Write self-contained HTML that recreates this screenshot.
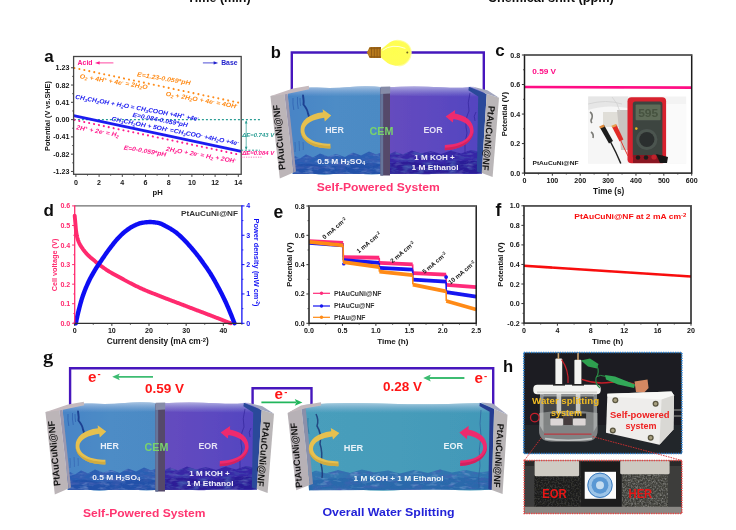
<!DOCTYPE html><html><head><meta charset="utf-8"><title>figure</title>
<style>html,body{margin:0;padding:0;background:#fff;}body{width:736px;height:530px;overflow:hidden;}svg{display:block;font-family:"Liberation Sans",sans-serif;}</style></head><body>
<svg width="736" height="530" viewBox="0 0 736 530">
<defs>
<linearGradient id="wL" x1="0" y1="0" x2="1" y2="0"><stop offset="0" stop-color="#4884c6"/><stop offset="0.5" stop-color="#4d8cc6"/><stop offset="1" stop-color="#4c8ac4"/></linearGradient>
<linearGradient id="wR" x1="0" y1="0" x2="1" y2="0"><stop offset="0" stop-color="#664cbe"/><stop offset="0.5" stop-color="#5c48c0"/><stop offset="1" stop-color="#5244c0"/></linearGradient>
<linearGradient id="wT" x1="0" y1="0" x2="1" y2="0"><stop offset="0" stop-color="#489ebc"/><stop offset="0.5" stop-color="#469cba"/><stop offset="1" stop-color="#4298b8"/></linearGradient>
<radialGradient id="bulb" cx="0.45" cy="0.45" r="0.6"><stop offset="0" stop-color="#ffff50"/><stop offset="0.75" stop-color="#fffd54"/><stop offset="1" stop-color="#fdf960"/></radialGradient>
<filter id="b03" x="-5%" y="-5%" width="110%" height="110%"><feGaussianBlur stdDeviation="0.5"/></filter>
<filter id="b06" x="-5%" y="-5%" width="110%" height="110%"><feGaussianBlur stdDeviation="0.6"/></filter>
<filter id="b1" x="-5%" y="-5%" width="110%" height="110%"><feGaussianBlur stdDeviation="1"/></filter>
<filter id="nzD" x="0" y="0" width="100%" height="100%"><feTurbulence type="fractalNoise" baseFrequency="0.55" numOctaves="2" seed="3"/><feColorMatrix type="matrix" values="0 0 0 0 0  0 0 0 0 0  0 0 0 0 0  0 0 0 1.6 -0.62"/></filter>
<filter id="nzL" x="0" y="0" width="100%" height="100%"><feTurbulence type="fractalNoise" baseFrequency="0.6" numOctaves="2" seed="8"/><feColorMatrix type="matrix" values="0 0 0 0 1  0 0 0 0 1  0 0 0 0 1  0 0 0 1.5 -0.62"/></filter>
<filter id="nzW" x="0" y="0" width="100%" height="100%"><feTurbulence type="fractalNoise" baseFrequency="0.12 0.3" numOctaves="2" seed="5"/><feColorMatrix type="matrix" values="0 0 0 0 0.05  0 0 0 0 0.1  0 0 0 0 0.4  0 0 0 1.8 -0.75"/></filter>
<linearGradient id="topB" x1="0" y1="0" x2="0" y2="1"><stop offset="0" stop-color="#dfe6f4" stop-opacity="0.62"/><stop offset="0.45" stop-color="#c8d4ee" stop-opacity="0.34"/><stop offset="1" stop-color="#b0c0e8" stop-opacity="0"/></linearGradient>
<filter id="wvTex" x="0" y="0" width="100%" height="100%"><feTurbulence type="fractalNoise" baseFrequency="0.09 0.28" numOctaves="3" seed="11" result="n"/><feColorMatrix in="n" type="matrix" values="0 0 0 0 0.06  0 0 0 0 0.12  0 0 0 0 0.45  0 0 0 2.6 -1.15" result="c"/><feComposite in="c" in2="SourceGraphic" operator="in"/></filter>
<filter id="wvTexL" x="0" y="0" width="100%" height="100%"><feTurbulence type="fractalNoise" baseFrequency="0.1 0.3" numOctaves="3" seed="23" result="n"/><feColorMatrix in="n" type="matrix" values="0 0 0 0 0.62  0 0 0 0 0.74  0 0 0 0 0.95  0 0 0 2.4 -1.3" result="c"/><feComposite in="c" in2="SourceGraphic" operator="in"/></filter>
</defs>
<rect width="736" height="530" fill="#fff"/>
<g filter="url(#b03)">
<text x="219" y="2.1" font-size="12.5" fill="#111" font-weight="bold" text-anchor="middle" textLength="63.3" lengthAdjust="spacingAndGlyphs">Time (min)</text>
<text x="550.8" y="2.1" font-size="12.5" fill="#111" font-weight="bold" text-anchor="middle" textLength="126" lengthAdjust="spacingAndGlyphs">Chemical shift (ppm)</text>
<text x="44.3" y="61.5" font-size="17" fill="#111" font-weight="bold" text-anchor="start">a</text>
<line x1="73.9" y1="119.6" x2="260" y2="119.6" stroke="#2a9d94" stroke-width="1.3" stroke-dasharray="2 2"/>
<line x1="74.4" y1="67.9555" x2="238.3" y2="102.5714" stroke="#ff8c1a" stroke-width="2.1" stroke-dasharray="0.01 5.06" stroke-linecap="round"/>
<line x1="74.4" y1="119.89999999999999" x2="238.3" y2="154.4159" stroke="#ff1a8c" stroke-width="2.1" stroke-dasharray="0.01 5.0" stroke-linecap="round"/>
<line x1="73.6" y1="115.56203" x2="241.2" y2="151.37267" stroke="#1c1cf0" stroke-width="2.7"/>
<rect x="73.6" y="56.5" width="167.6" height="117.80000000000001" fill="none" stroke="#444" stroke-width="1.3"/>
<line x1="71.0" y1="67.7555" x2="73.6" y2="67.7555" stroke="#444" stroke-width="1"/>
<text x="69.39999999999999" y="70.2555" font-size="7.1" fill="#161616" font-weight="bold" text-anchor="end">1.23</text>
<line x1="71.0" y1="85.037" x2="73.6" y2="85.037" stroke="#444" stroke-width="1"/>
<text x="69.39999999999999" y="87.537" font-size="7.1" fill="#161616" font-weight="bold" text-anchor="end">0.82</text>
<line x1="71.0" y1="102.3185" x2="73.6" y2="102.3185" stroke="#444" stroke-width="1"/>
<text x="69.39999999999999" y="104.8185" font-size="7.1" fill="#161616" font-weight="bold" text-anchor="end">0.41</text>
<line x1="71.0" y1="119.6" x2="73.6" y2="119.6" stroke="#444" stroke-width="1"/>
<text x="69.39999999999999" y="122.1" font-size="7.1" fill="#161616" font-weight="bold" text-anchor="end">0.00</text>
<line x1="71.0" y1="136.8815" x2="73.6" y2="136.8815" stroke="#444" stroke-width="1"/>
<text x="69.39999999999999" y="139.3815" font-size="7.1" fill="#161616" font-weight="bold" text-anchor="end">-0.41</text>
<line x1="71.0" y1="154.16299999999998" x2="73.6" y2="154.16299999999998" stroke="#444" stroke-width="1"/>
<text x="69.39999999999999" y="156.66299999999998" font-size="7.1" fill="#161616" font-weight="bold" text-anchor="end">-0.82</text>
<line x1="71.0" y1="171.4445" x2="73.6" y2="171.4445" stroke="#444" stroke-width="1"/>
<text x="69.39999999999999" y="173.9445" font-size="7.1" fill="#161616" font-weight="bold" text-anchor="end">-1.23</text>
<line x1="72.1" y1="76.39625000000001" x2="73.6" y2="76.39625000000001" stroke="#444" stroke-width="0.8"/>
<line x1="72.1" y1="93.67775" x2="73.6" y2="93.67775" stroke="#444" stroke-width="0.8"/>
<line x1="72.1" y1="110.95925" x2="73.6" y2="110.95925" stroke="#444" stroke-width="0.8"/>
<line x1="72.1" y1="128.24075" x2="73.6" y2="128.24075" stroke="#444" stroke-width="0.8"/>
<line x1="72.1" y1="145.52224999999999" x2="73.6" y2="145.52224999999999" stroke="#444" stroke-width="0.8"/>
<line x1="72.1" y1="162.80374999999998" x2="73.6" y2="162.80374999999998" stroke="#444" stroke-width="0.8"/>
<line x1="75.9" y1="174.3" x2="75.9" y2="176.9" stroke="#444" stroke-width="1"/>
<text x="75.9" y="184.5" font-size="7.1" fill="#161616" font-weight="bold" text-anchor="middle">0</text>
<line x1="99.10000000000001" y1="174.3" x2="99.10000000000001" y2="176.9" stroke="#444" stroke-width="1"/>
<text x="99.10000000000001" y="184.5" font-size="7.1" fill="#161616" font-weight="bold" text-anchor="middle">2</text>
<line x1="122.30000000000001" y1="174.3" x2="122.30000000000001" y2="176.9" stroke="#444" stroke-width="1"/>
<text x="122.30000000000001" y="184.5" font-size="7.1" fill="#161616" font-weight="bold" text-anchor="middle">4</text>
<line x1="145.5" y1="174.3" x2="145.5" y2="176.9" stroke="#444" stroke-width="1"/>
<text x="145.5" y="184.5" font-size="7.1" fill="#161616" font-weight="bold" text-anchor="middle">6</text>
<line x1="168.7" y1="174.3" x2="168.7" y2="176.9" stroke="#444" stroke-width="1"/>
<text x="168.7" y="184.5" font-size="7.1" fill="#161616" font-weight="bold" text-anchor="middle">8</text>
<line x1="191.9" y1="174.3" x2="191.9" y2="176.9" stroke="#444" stroke-width="1"/>
<text x="191.9" y="184.5" font-size="7.1" fill="#161616" font-weight="bold" text-anchor="middle">10</text>
<line x1="215.1" y1="174.3" x2="215.1" y2="176.9" stroke="#444" stroke-width="1"/>
<text x="215.1" y="184.5" font-size="7.1" fill="#161616" font-weight="bold" text-anchor="middle">12</text>
<line x1="238.3" y1="174.3" x2="238.3" y2="176.9" stroke="#444" stroke-width="1"/>
<text x="238.3" y="184.5" font-size="7.1" fill="#161616" font-weight="bold" text-anchor="middle">14</text>
<line x1="87.5" y1="174.3" x2="87.5" y2="175.8" stroke="#444" stroke-width="0.8"/>
<line x1="110.7" y1="174.3" x2="110.7" y2="175.8" stroke="#444" stroke-width="0.8"/>
<line x1="133.9" y1="174.3" x2="133.9" y2="175.8" stroke="#444" stroke-width="0.8"/>
<line x1="157.10000000000002" y1="174.3" x2="157.10000000000002" y2="175.8" stroke="#444" stroke-width="0.8"/>
<line x1="180.3" y1="174.3" x2="180.3" y2="175.8" stroke="#444" stroke-width="0.8"/>
<line x1="203.5" y1="174.3" x2="203.5" y2="175.8" stroke="#444" stroke-width="0.8"/>
<line x1="226.7" y1="174.3" x2="226.7" y2="175.8" stroke="#444" stroke-width="0.8"/>
<text x="157.6" y="194.6" font-size="7.7" fill="#161616" font-weight="bold" text-anchor="middle">pH</text>
<text x="50.2" y="116" font-size="7.3" fill="#161616" font-weight="bold" text-anchor="middle" transform="rotate(-90 50.2 116)">Potential (V vs.SHE)</text>
<text x="77.6" y="65.0" font-size="6.9" fill="#ff1a8c" font-weight="bold" text-anchor="start" textLength="15" lengthAdjust="spacingAndGlyphs">Acid</text>
<path d="M113.4 62.9H98" stroke="#ff1a8c" stroke-width="0.8"/><path d="M95 62.9l4.6-1.6v3.2z" fill="#ff1a8c"/>
<path d="M202.9 62.9H214" stroke="#2222cc" stroke-width="0.8"/><path d="M218.2 62.9l-4.6-1.6v3.2z" fill="#2222cc"/>
<text x="221.2" y="64.9" font-size="6.9" fill="#2222cc" font-weight="bold" text-anchor="start" textLength="16.3" lengthAdjust="spacingAndGlyphs">Base</text>
<text x="79.8" y="76.0" font-size="6.3" fill="#ff8c1a" font-weight="bold" text-anchor="start" font-style="italic" transform="rotate(9.3 79.8 76.0)" textLength="68.7" lengthAdjust="spacingAndGlyphs" dy="2.2">O<tspan font-size="70%" dy="1.2">2</tspan><tspan dy="-1.2">&#8203;</tspan> + 4H<tspan font-size="70%" dy="-2">+</tspan><tspan dy="2">&#8203;</tspan> + 4e<tspan font-size="70%" dy="-2">-</tspan><tspan dy="2">&#8203;</tspan> = 2H<tspan font-size="70%" dy="1.2">2</tspan><tspan dy="-1.2">&#8203;</tspan>O</text>
<text x="137.2" y="74.1" font-size="6.3" fill="#ff8c1a" font-weight="bold" text-anchor="start" font-style="italic" transform="rotate(9.4 137.2 74.1)" textLength="54" lengthAdjust="spacingAndGlyphs" dy="2.2">E=1.23-0.059*pH</text>
<text x="165.8" y="93.6" font-size="6.3" fill="#ff8c1a" font-weight="bold" text-anchor="start" font-style="italic" transform="rotate(10.1 165.8 93.6)" textLength="72.8" lengthAdjust="spacingAndGlyphs" dy="2.2">O<tspan font-size="70%" dy="1.2">2</tspan><tspan dy="-1.2">&#8203;</tspan> + 2H<tspan font-size="70%" dy="1.2">2</tspan><tspan dy="-1.2">&#8203;</tspan>O + 4e<tspan font-size="70%" dy="-2">-</tspan><tspan dy="2">&#8203;</tspan> = 4OH<tspan font-size="70%" dy="-2">-</tspan><tspan dy="2">&#8203;</tspan></text>
<text x="75.5" y="96.6" font-size="6.3" fill="#1c1cf0" font-weight="bold" text-anchor="start" font-style="italic" transform="rotate(10.3 75.5 96.6)" textLength="125.4" lengthAdjust="spacingAndGlyphs" dy="2.2">CH<tspan font-size="70%" dy="1.2">3</tspan><tspan dy="-1.2">&#8203;</tspan>CH<tspan font-size="70%" dy="1.2">2</tspan><tspan dy="-1.2">&#8203;</tspan>OH + H<tspan font-size="70%" dy="1.2">2</tspan><tspan dy="-1.2">&#8203;</tspan>O = CH<tspan font-size="70%" dy="1.2">3</tspan><tspan dy="-1.2">&#8203;</tspan>COOH +4H<tspan font-size="70%" dy="-2">+</tspan><tspan dy="2">&#8203;</tspan> +4e<tspan font-size="70%" dy="-2">-</tspan><tspan dy="2">&#8203;</tspan></text>
<text x="132.7" y="114.5" font-size="6.3" fill="#1c1cf0" font-weight="bold" text-anchor="start" font-style="italic" transform="rotate(10.9 132.7 114.5)" textLength="56.1" lengthAdjust="spacingAndGlyphs" dy="2.2">E=0.084-0.059*pH</text>
<text x="111.6" y="118.6" font-size="6.3" fill="#1c1cf0" font-weight="bold" text-anchor="start" font-style="italic" transform="rotate(11.0 111.6 118.6)" textLength="129.5" lengthAdjust="spacingAndGlyphs" dy="2.2">CH<tspan font-size="70%" dy="1.2">3</tspan><tspan dy="-1.2">&#8203;</tspan>CH<tspan font-size="70%" dy="1.2">2</tspan><tspan dy="-1.2">&#8203;</tspan>OH + 5OH<tspan font-size="70%" dy="-2">-</tspan><tspan dy="2">&#8203;</tspan> =CH<tspan font-size="70%" dy="1.2">3</tspan><tspan dy="-1.2">&#8203;</tspan>COO<tspan font-size="70%" dy="-2">-</tspan><tspan dy="2">&#8203;</tspan> +4H<tspan font-size="70%" dy="1.2">2</tspan><tspan dy="-1.2">&#8203;</tspan>O +4e<tspan font-size="70%" dy="-2">-</tspan><tspan dy="2">&#8203;</tspan></text>
<text x="76.4" y="127.1" font-size="6.3" fill="#ff1a8c" font-weight="bold" text-anchor="start" font-style="italic" transform="rotate(10.6 76.4 127.1)" textLength="43.3" lengthAdjust="spacingAndGlyphs" dy="2.2">2H<tspan font-size="70%" dy="-2">+</tspan><tspan dy="2">&#8203;</tspan> + 2e<tspan font-size="70%" dy="-2">-</tspan><tspan dy="2">&#8203;</tspan> = H<tspan font-size="70%" dy="1.2">2</tspan><tspan dy="-1.2">&#8203;</tspan></text>
<text x="123.8" y="147.3" font-size="6.3" fill="#ff1a8c" font-weight="bold" text-anchor="start" font-style="italic" transform="rotate(9.5 123.8 147.3)" textLength="43" lengthAdjust="spacingAndGlyphs" dy="2.2">E=0-0.059*pH</text>
<text x="166.2" y="148.6" font-size="6.3" fill="#ff1a8c" font-weight="bold" text-anchor="start" font-style="italic" transform="rotate(10.1 166.2 148.6)" textLength="70.9" lengthAdjust="spacingAndGlyphs" dy="2.2">2H<tspan font-size="70%" dy="1.2">2</tspan><tspan dy="-1.2">&#8203;</tspan>O + 2e<tspan font-size="70%" dy="-2">-</tspan><tspan dy="2">&#8203;</tspan> = H<tspan font-size="70%" dy="1.2">2</tspan><tspan dy="-1.2">&#8203;</tspan> + 2OH<tspan font-size="70%" dy="-2">-</tspan><tspan dy="2">&#8203;</tspan></text>
<line x1="241.2" y1="150.2" x2="260" y2="150.2" stroke="#2a9d94" stroke-width="1" stroke-dasharray="2 1.6"/>
<line x1="246.2" y1="121" x2="246.2" y2="149" stroke="#2a9d94" stroke-width="0.7"/>
<path d="M246.2 120.2l-1.3 3.2h2.6z M246.2 150l-1.3-3.2h2.6z" fill="#2a9d94"/>
<text x="242.2" y="137" font-size="4.8" fill="#2a9d94" font-weight="bold" text-anchor="start" font-style="italic" textLength="32" lengthAdjust="spacingAndGlyphs">&#916;E=0.743 V</text>
<text x="242.2" y="155.4" font-size="4.8" fill="#ff1a8c" font-weight="bold" text-anchor="start" font-style="italic" textLength="32" lengthAdjust="spacingAndGlyphs">&#916;E=0.084 V</text>
<line x1="241.2" y1="151.6" x2="262" y2="151.6" stroke="#ff1a8c" stroke-width="0.6" stroke-dasharray="1.2 1.2"/>
<line x1="241.2" y1="157.2" x2="262" y2="157.2" stroke="#ff1a8c" stroke-width="0.6" stroke-dasharray="1.2 1.2"/>
<text x="495.3" y="55.8" font-size="17" fill="#111" font-weight="bold" text-anchor="start">c</text>
<g filter="url(#b06)">
<rect x="588.2" y="96.5" width="98" height="67" fill="#f3f3f3"/>
<path d="M588.2 105 H627 V163.5 H588.2Z" fill="#f6f6f6"/>
<path d="M588.2 96.5 H628 V108 Q606 104 588.2 110 Z" fill="#e6e6e6"/>
<path d="M666 104 H686.2 V163.5 H666 Z" fill="#fafafa"/>
<path d="M603 112 H622 V127 H603Z" fill="#e0ded8"/>
<path d="M617 110 H628 V150 H621 Z" fill="#c9c6c2"/>
<rect x="627.5" y="97.2" width="38.6" height="66" rx="4" fill="#d8212e"/>
<rect x="632.8" y="101.6" width="29.6" height="57.5" rx="2.5" fill="#3d4440"/>
<rect x="635.6" y="104.6" width="25" height="15.6" rx="1" fill="#5e6c58"/>
<text x="648.2" y="116.6" font-size="10.5" fill="#46523f" font-weight="bold" text-anchor="middle" textLength="20" lengthAdjust="spacingAndGlyphs">595</text>
<circle cx="646.8" cy="139.5" r="10.6" fill="#4c5450"/><circle cx="646.8" cy="139.5" r="7.6" fill="#2b2f2d"/>
<circle cx="636.3" cy="128.6" r="1.3" fill="#e7b220"/>
<rect x="633" y="155" width="30" height="8" fill="#8a1820"/>
<circle cx="638" cy="157.5" r="2.2" fill="#1c1c1c"/><circle cx="646" cy="157.5" r="2.2" fill="#1c1c1c"/><circle cx="654" cy="157" r="2.6" fill="#c0202a"/>
<path d="M656 154 L668 157 L667 163 L660 163 Z" fill="#161616"/>
<path d="M599.6 127 L604.2 125.2 L613 141 L609 143.4 Z" fill="#1a1a1a"/><path d="M599.2 126.4 L603.6 124.6 L604.8 126.8 L600.4 128.6 Z" fill="#e08a3a"/>
<path d="M610.6 142 Q616 152 620.8 163.5" stroke="#222" stroke-width="1.5" fill="none"/>
<path d="M611.8 126.4 L616.4 124.6 L623.4 139.6 L619.6 141.6 Z" fill="#e02a28"/><path d="M611.4 125.8 L615.8 124 L616.8 126 L612.4 127.8 Z" fill="#e8a050"/>
<path d="M620.5 140 Q624 148 628 156" stroke="#e03a34" stroke-width="1" fill="none"/>
<path d="M590 112 q3 2 2 6 q-2 3 0 5 M591 132 q3 2 2 6" stroke="#7c7c78" stroke-width="1.6" fill="none"/>
<path d="M588.2 104 Q606 99 622 104 M612 97 Q618 103 620 112" stroke="#cfcfcf" stroke-width="0.7" fill="none"/>
</g>
<line x1="524.5" y1="87.0" x2="691.7" y2="87.6" stroke="#ff0a84" stroke-width="2.6"/>
<rect x="524.5" y="55.0" width="167.20000000000005" height="118.1" fill="none" stroke="#1c1c1c" stroke-width="1.5"/>
<line x1="524.5" y1="55.0" x2="691.7" y2="55.0" stroke="#6a6a6a" stroke-width="1.5"/>
<line x1="521.9" y1="173.1" x2="524.5" y2="173.1" stroke="#333" stroke-width="1"/>
<text x="520.1" y="175.6" font-size="7.1" fill="#161616" font-weight="bold" text-anchor="end">0.0</text>
<line x1="521.9" y1="143.575" x2="524.5" y2="143.575" stroke="#333" stroke-width="1"/>
<text x="520.1" y="146.075" font-size="7.1" fill="#161616" font-weight="bold" text-anchor="end">0.2</text>
<line x1="521.9" y1="114.05000000000001" x2="524.5" y2="114.05000000000001" stroke="#333" stroke-width="1"/>
<text x="520.1" y="116.55000000000001" font-size="7.1" fill="#161616" font-weight="bold" text-anchor="end">0.4</text>
<line x1="521.9" y1="84.52500000000002" x2="524.5" y2="84.52500000000002" stroke="#333" stroke-width="1"/>
<text x="520.1" y="87.02500000000002" font-size="7.1" fill="#161616" font-weight="bold" text-anchor="end">0.6</text>
<line x1="521.9" y1="55.000000000000014" x2="524.5" y2="55.000000000000014" stroke="#333" stroke-width="1"/>
<text x="520.1" y="57.500000000000014" font-size="7.1" fill="#161616" font-weight="bold" text-anchor="end">0.8</text>
<line x1="523.0" y1="158.3375" x2="524.5" y2="158.3375" stroke="#333" stroke-width="0.8"/>
<line x1="523.0" y1="128.8125" x2="524.5" y2="128.8125" stroke="#333" stroke-width="0.8"/>
<line x1="523.0" y1="99.28750000000001" x2="524.5" y2="99.28750000000001" stroke="#333" stroke-width="0.8"/>
<line x1="523.0" y1="69.76250000000002" x2="524.5" y2="69.76250000000002" stroke="#333" stroke-width="0.8"/>
<line x1="524.5" y1="173.1" x2="524.5" y2="175.7" stroke="#333" stroke-width="1"/>
<text x="524.5" y="183.1" font-size="7.1" fill="#161616" font-weight="bold" text-anchor="middle">0</text>
<line x1="552.3666666666667" y1="173.1" x2="552.3666666666667" y2="175.7" stroke="#333" stroke-width="1"/>
<text x="552.3666666666667" y="183.1" font-size="7.1" fill="#161616" font-weight="bold" text-anchor="middle">100</text>
<line x1="580.2333333333333" y1="173.1" x2="580.2333333333333" y2="175.7" stroke="#333" stroke-width="1"/>
<text x="580.2333333333333" y="183.1" font-size="7.1" fill="#161616" font-weight="bold" text-anchor="middle">200</text>
<line x1="608.1" y1="173.1" x2="608.1" y2="175.7" stroke="#333" stroke-width="1"/>
<text x="608.1" y="183.1" font-size="7.1" fill="#161616" font-weight="bold" text-anchor="middle">300</text>
<line x1="635.9666666666667" y1="173.1" x2="635.9666666666667" y2="175.7" stroke="#333" stroke-width="1"/>
<text x="635.9666666666667" y="183.1" font-size="7.1" fill="#161616" font-weight="bold" text-anchor="middle">400</text>
<line x1="663.8333333333334" y1="173.1" x2="663.8333333333334" y2="175.7" stroke="#333" stroke-width="1"/>
<text x="663.8333333333334" y="183.1" font-size="7.1" fill="#161616" font-weight="bold" text-anchor="middle">500</text>
<line x1="691.7" y1="173.1" x2="691.7" y2="175.7" stroke="#333" stroke-width="1"/>
<text x="691.7" y="183.1" font-size="7.1" fill="#161616" font-weight="bold" text-anchor="middle">600</text>
<line x1="538.4333333333334" y1="173.1" x2="538.4333333333334" y2="174.6" stroke="#333" stroke-width="0.8"/>
<line x1="566.3" y1="173.1" x2="566.3" y2="174.6" stroke="#333" stroke-width="0.8"/>
<line x1="594.1666666666667" y1="173.1" x2="594.1666666666667" y2="174.6" stroke="#333" stroke-width="0.8"/>
<line x1="622.0333333333333" y1="173.1" x2="622.0333333333333" y2="174.6" stroke="#333" stroke-width="0.8"/>
<line x1="649.9" y1="173.1" x2="649.9" y2="174.6" stroke="#333" stroke-width="0.8"/>
<line x1="677.7666666666667" y1="173.1" x2="677.7666666666667" y2="174.6" stroke="#333" stroke-width="0.8"/>
<text x="608.7" y="194.4" font-size="8.2" fill="#161616" font-weight="bold" text-anchor="middle">Time (s)</text>
<text x="507.0" y="114.2" font-size="7.6" fill="#161616" font-weight="bold" text-anchor="middle" transform="rotate(-90 507.0 114.2)">Potential (V)</text>
<text x="532.3" y="73.8" font-size="8.0" fill="#ff0a84" font-weight="bold" text-anchor="start" textLength="23.8" lengthAdjust="spacingAndGlyphs">0.59 V</text>
<text x="532.5" y="164.5" font-size="5.6" fill="#161616" font-weight="bold" text-anchor="start" textLength="46" lengthAdjust="spacingAndGlyphs">PtAuCuNi@NF</text>
<text x="43.6" y="215.6" font-size="17" fill="#111" font-weight="bold" text-anchor="start">d</text>
<path d="M74.70 215.68 L74.83 217.07 L74.95 218.46 L75.08 219.83 L75.20 221.22 L75.33 222.67 L75.46 224.18 L75.58 225.70 L75.71 227.19 L75.83 228.59 L75.96 229.87 L76.09 230.99 L76.21 231.89 L76.34 232.70 L76.46 233.46 L76.59 234.19 L76.72 234.87 L76.84 235.52 L76.97 236.14 L77.09 236.72 L77.22 237.26 L77.34 237.78 L77.47 238.27 L77.60 238.72 L77.72 239.16 L77.85 239.56 L77.97 239.94 L78.10 240.30 L78.23 240.65 L78.35 240.98 L78.48 241.31 L78.60 241.63 L78.73 241.93 L78.86 242.23 L78.98 242.52 L79.11 242.80 L79.23 243.07 L79.36 243.33 L79.49 243.59 L79.61 243.84 L79.74 244.09 L79.86 244.32 L79.99 244.55 L80.12 244.78 L80.24 245.00 L80.37 245.22 L80.49 245.43 L80.62 245.64 L80.75 245.84 L80.87 246.05 L81.00 246.24 L81.12 246.44 L81.25 246.63 L81.38 246.83 L81.50 247.02 L81.63 247.21 L81.75 247.40 L81.88 247.59 L82.01 247.78 L82.13 247.97 L83.07 249.33 L84.00 250.58 L84.94 251.75 L85.87 252.84 L86.80 253.87 L87.74 254.85 L88.67 255.78 L89.61 256.65 L90.54 257.48 L91.48 258.27 L92.41 259.05 L93.35 259.82 L94.28 260.59 L95.22 261.38 L96.15 262.16 L97.09 262.93 L98.02 263.69 L98.96 264.44 L99.89 265.16 L100.83 265.86 L101.76 266.54 L102.70 267.21 L103.63 267.87 L104.56 268.52 L105.50 269.16 L106.43 269.78 L107.37 270.39 L108.30 270.99 L109.24 271.57 L110.17 272.14 L111.11 272.69 L112.04 273.23 L112.98 273.75 L113.91 274.25 L114.85 274.75 L115.78 275.25 L116.72 275.75 L117.65 276.24 L118.59 276.75 L119.52 277.26 L120.46 277.77 L121.39 278.29 L122.32 278.81 L123.26 279.33 L124.19 279.84 L125.13 280.36 L126.06 280.87 L127.00 281.38 L127.93 281.88 L128.87 282.38 L129.80 282.86 L130.74 283.34 L131.67 283.82 L132.61 284.29 L133.54 284.76 L134.48 285.23 L135.41 285.69 L136.35 286.15 L137.28 286.60 L138.21 287.05 L139.15 287.49 L140.08 287.93 L141.02 288.36 L141.95 288.79 L142.89 289.21 L143.82 289.62 L144.76 290.02 L145.69 290.42 L146.63 290.81 L147.56 291.20 L148.50 291.58 L149.43 291.96 L150.37 292.33 L151.30 292.70 L152.24 293.07 L153.17 293.44 L154.11 293.81 L155.04 294.18 L155.97 294.55 L156.91 294.92 L157.84 295.29 L158.78 295.66 L159.71 296.03 L160.65 296.39 L161.58 296.76 L162.52 297.13 L163.45 297.49 L164.39 297.85 L165.32 298.22 L166.26 298.58 L167.19 298.94 L168.13 299.30 L169.06 299.66 L170.00 300.01 L170.93 300.37 L171.87 300.72 L172.80 301.07 L173.73 301.43 L174.67 301.78 L175.60 302.13 L176.54 302.48 L177.47 302.83 L178.41 303.18 L179.34 303.54 L180.28 303.89 L181.21 304.24 L182.15 304.60 L183.08 304.95 L184.02 305.31 L184.95 305.66 L185.89 306.02 L186.82 306.38 L187.76 306.73 L188.69 307.09 L189.63 307.45 L190.56 307.80 L191.49 308.16 L192.43 308.52 L193.36 308.88 L194.30 309.23 L195.23 309.59 L196.17 309.95 L197.10 310.31 L198.04 310.66 L198.97 311.02 L199.91 311.37 L200.84 311.73 L201.78 312.09 L202.71 312.44 L203.65 312.80 L204.58 313.15 L205.52 313.51 L206.45 313.87 L207.39 314.22 L208.32 314.58 L209.25 314.94 L210.19 315.30 L211.12 315.66 L212.06 316.02 L212.99 316.38 L213.93 316.74 L214.86 317.10 L215.80 317.46 L216.73 317.82 L217.67 318.18 L218.60 318.55 L219.54 318.91 L220.47 319.27 L221.41 319.64 L222.34 320.00 L223.28 320.37 L224.21 320.73 L225.14 321.10 L226.08 321.46 L227.01 321.83 L227.95 322.20 L228.88 322.56 L229.82 322.93 L230.75 323.30" fill="none" stroke="#ff2a6e" stroke-width="3.9" stroke-linejoin="round" stroke-linecap="round"/>
<path d="M75.81 323.30 L76.54 319.83 L77.26 316.49 L77.99 313.33 L78.71 310.36 L79.44 307.51 L80.16 304.76 L80.89 302.15 L81.61 299.70 L82.33 297.44 L83.06 295.31 L83.78 293.27 L84.51 291.33 L85.23 289.47 L85.96 287.69 L86.68 285.98 L87.41 284.34 L88.13 282.76 L88.85 281.24 L89.58 279.77 L90.30 278.36 L91.03 276.99 L91.75 275.66 L92.48 274.36 L93.20 273.09 L93.93 271.85 L94.65 270.62 L95.37 269.43 L96.10 268.28 L96.82 267.15 L97.55 266.05 L98.27 264.97 L99.00 263.89 L99.72 262.83 L100.45 261.76 L101.17 260.69 L101.89 259.62 L102.62 258.55 L103.34 257.49 L104.07 256.43 L104.79 255.38 L105.52 254.34 L106.24 253.31 L106.97 252.28 L107.69 251.28 L108.41 250.28 L109.14 249.30 L109.86 248.34 L110.59 247.39 L111.31 246.44 L112.04 245.50 L112.76 244.57 L113.49 243.64 L114.21 242.73 L114.93 241.83 L115.66 240.96 L116.38 240.10 L117.11 239.27 L117.83 238.46 L118.56 237.68 L119.28 236.93 L120.01 236.19 L120.73 235.47 L121.45 234.77 L122.18 234.08 L122.90 233.41 L123.63 232.76 L124.35 232.14 L125.08 231.53 L125.80 230.96 L126.53 230.40 L127.25 229.87 L127.97 229.35 L128.70 228.85 L129.42 228.36 L130.15 227.89 L130.87 227.44 L131.60 227.01 L132.32 226.60 L133.05 226.22 L133.77 225.86 L134.49 225.52 L135.22 225.18 L135.94 224.85 L136.67 224.52 L137.39 224.21 L138.12 223.92 L138.84 223.65 L139.57 223.41 L140.29 223.20 L141.02 223.03 L141.74 222.90 L142.46 222.78 L143.19 222.66 L143.91 222.55 L144.64 222.44 L145.36 222.35 L146.09 222.26 L146.81 222.19 L147.54 222.13 L148.26 222.08 L148.98 222.05 L149.71 222.04 L150.43 222.05 L151.16 222.07 L151.88 222.11 L152.61 222.17 L153.33 222.23 L154.06 222.31 L154.78 222.39 L155.50 222.49 L156.23 222.59 L156.95 222.70 L157.68 222.82 L158.40 222.94 L159.13 223.10 L159.85 223.31 L160.58 223.57 L161.30 223.86 L162.02 224.19 L162.75 224.55 L163.47 224.92 L164.20 225.31 L164.92 225.71 L165.65 226.10 L166.37 226.49 L167.10 226.87 L167.82 227.25 L168.54 227.64 L169.27 228.05 L169.99 228.47 L170.72 228.90 L171.44 229.34 L172.17 229.79 L172.89 230.26 L173.62 230.75 L174.34 231.25 L175.06 231.76 L175.79 232.30 L176.51 232.86 L177.24 233.45 L177.96 234.06 L178.69 234.69 L179.41 235.34 L180.14 236.00 L180.86 236.67 L181.58 237.36 L182.31 238.05 L183.03 238.75 L183.76 239.47 L184.48 240.21 L185.21 240.97 L185.93 241.74 L186.66 242.53 L187.38 243.32 L188.10 244.13 L188.83 244.95 L189.55 245.77 L190.28 246.59 L191.00 247.42 L191.73 248.26 L192.45 249.11 L193.18 249.97 L193.90 250.83 L194.62 251.71 L195.35 252.60 L196.07 253.50 L196.80 254.41 L197.52 255.32 L198.25 256.25 L198.97 257.19 L199.70 258.15 L200.42 259.12 L201.14 260.11 L201.87 261.12 L202.59 262.13 L203.32 263.16 L204.04 264.19 L204.77 265.22 L205.49 266.25 L206.22 267.29 L206.94 268.33 L207.66 269.38 L208.39 270.45 L209.11 271.53 L209.84 272.65 L210.56 273.79 L211.29 274.97 L212.01 276.16 L212.74 277.38 L213.46 278.62 L214.18 279.89 L214.91 281.16 L215.63 282.46 L216.36 283.77 L217.08 285.09 L217.81 286.43 L218.53 287.77 L219.26 289.13 L219.98 290.51 L220.70 291.90 L221.43 293.32 L222.15 294.75 L222.88 296.20 L223.60 297.68 L224.33 299.19 L225.05 300.72 L225.78 302.28 L226.50 303.89 L227.22 305.54 L227.95 307.21 L228.67 308.91 L229.40 310.64 L230.12 312.38 L230.85 314.13 L231.57 315.91 L232.30 317.72 L233.02 319.56 L233.74 321.42 L234.47 323.30" fill="none" stroke="#1010f4" stroke-width="4.4" stroke-linejoin="round" stroke-linecap="round"/>
<line x1="74.7" y1="205.9" x2="241.9" y2="205.9" stroke="#6e6e6e" stroke-width="1.4"/>
<line x1="74.7" y1="205.3" x2="74.7" y2="323.90000000000003" stroke="#ff2a6e" stroke-width="1.3"/>
<line x1="74.7" y1="323.3" x2="241.9" y2="323.3" stroke="#333" stroke-width="1.3"/>
<line x1="241.9" y1="205.3" x2="241.9" y2="323.90000000000003" stroke="#1010f4" stroke-width="1.3"/>
<line x1="72.10000000000001" y1="323.3" x2="74.7" y2="323.3" stroke="#ff2a6e" stroke-width="1"/>
<text x="70.3" y="325.8" font-size="7.1" fill="#ff2a6e" font-weight="bold" text-anchor="end">0.0</text>
<line x1="72.10000000000001" y1="303.73333333333335" x2="74.7" y2="303.73333333333335" stroke="#ff2a6e" stroke-width="1"/>
<text x="70.3" y="306.23333333333335" font-size="7.1" fill="#ff2a6e" font-weight="bold" text-anchor="end">0.1</text>
<line x1="72.10000000000001" y1="284.1666666666667" x2="74.7" y2="284.1666666666667" stroke="#ff2a6e" stroke-width="1"/>
<text x="70.3" y="286.6666666666667" font-size="7.1" fill="#ff2a6e" font-weight="bold" text-anchor="end">0.2</text>
<line x1="72.10000000000001" y1="264.6" x2="74.7" y2="264.6" stroke="#ff2a6e" stroke-width="1"/>
<text x="70.3" y="267.1" font-size="7.1" fill="#ff2a6e" font-weight="bold" text-anchor="end">0.3</text>
<line x1="72.10000000000001" y1="245.03333333333333" x2="74.7" y2="245.03333333333333" stroke="#ff2a6e" stroke-width="1"/>
<text x="70.3" y="247.53333333333333" font-size="7.1" fill="#ff2a6e" font-weight="bold" text-anchor="end">0.4</text>
<line x1="72.10000000000001" y1="225.46666666666667" x2="74.7" y2="225.46666666666667" stroke="#ff2a6e" stroke-width="1"/>
<text x="70.3" y="227.96666666666667" font-size="7.1" fill="#ff2a6e" font-weight="bold" text-anchor="end">0.5</text>
<line x1="72.10000000000001" y1="205.89999999999998" x2="74.7" y2="205.89999999999998" stroke="#ff2a6e" stroke-width="1"/>
<text x="70.3" y="208.39999999999998" font-size="7.1" fill="#ff2a6e" font-weight="bold" text-anchor="end">0.6</text>
<line x1="73.2" y1="313.51666666666665" x2="74.7" y2="313.51666666666665" stroke="#ff2a6e" stroke-width="0.8"/>
<line x1="73.2" y1="293.95" x2="74.7" y2="293.95" stroke="#ff2a6e" stroke-width="0.8"/>
<line x1="73.2" y1="274.3833333333333" x2="74.7" y2="274.3833333333333" stroke="#ff2a6e" stroke-width="0.8"/>
<line x1="73.2" y1="254.81666666666666" x2="74.7" y2="254.81666666666666" stroke="#ff2a6e" stroke-width="0.8"/>
<line x1="73.2" y1="235.25" x2="74.7" y2="235.25" stroke="#ff2a6e" stroke-width="0.8"/>
<line x1="73.2" y1="215.68333333333334" x2="74.7" y2="215.68333333333334" stroke="#ff2a6e" stroke-width="0.8"/>
<line x1="74.7" y1="323.3" x2="74.7" y2="325.90000000000003" stroke="#333" stroke-width="1"/>
<text x="74.7" y="333.3" font-size="7.1" fill="#161616" font-weight="bold" text-anchor="middle">0</text>
<line x1="111.85555555555555" y1="323.3" x2="111.85555555555555" y2="325.90000000000003" stroke="#333" stroke-width="1"/>
<text x="111.85555555555555" y="333.3" font-size="7.1" fill="#161616" font-weight="bold" text-anchor="middle">10</text>
<line x1="149.01111111111112" y1="323.3" x2="149.01111111111112" y2="325.90000000000003" stroke="#333" stroke-width="1"/>
<text x="149.01111111111112" y="333.3" font-size="7.1" fill="#161616" font-weight="bold" text-anchor="middle">20</text>
<line x1="186.16666666666669" y1="323.3" x2="186.16666666666669" y2="325.90000000000003" stroke="#333" stroke-width="1"/>
<text x="186.16666666666669" y="333.3" font-size="7.1" fill="#161616" font-weight="bold" text-anchor="middle">30</text>
<line x1="223.32222222222225" y1="323.3" x2="223.32222222222225" y2="325.90000000000003" stroke="#333" stroke-width="1"/>
<text x="223.32222222222225" y="333.3" font-size="7.1" fill="#161616" font-weight="bold" text-anchor="middle">40</text>
<line x1="93.27777777777779" y1="323.3" x2="93.27777777777779" y2="324.8" stroke="#333" stroke-width="0.8"/>
<line x1="130.43333333333334" y1="323.3" x2="130.43333333333334" y2="324.8" stroke="#333" stroke-width="0.8"/>
<line x1="167.5888888888889" y1="323.3" x2="167.5888888888889" y2="324.8" stroke="#333" stroke-width="0.8"/>
<line x1="204.74444444444447" y1="323.3" x2="204.74444444444447" y2="324.8" stroke="#333" stroke-width="0.8"/>
<line x1="241.89999999999998" y1="323.3" x2="241.89999999999998" y2="324.8" stroke="#333" stroke-width="0.8"/>
<line x1="241.9" y1="323.3" x2="244.5" y2="323.3" stroke="#1010f4" stroke-width="1"/>
<text x="246.3" y="325.8" font-size="7.1" fill="#1010f4" font-weight="bold" text-anchor="start">0</text>
<line x1="241.9" y1="293.95" x2="244.5" y2="293.95" stroke="#1010f4" stroke-width="1"/>
<text x="246.3" y="296.45" font-size="7.1" fill="#1010f4" font-weight="bold" text-anchor="start">1</text>
<line x1="241.9" y1="264.6" x2="244.5" y2="264.6" stroke="#1010f4" stroke-width="1"/>
<text x="246.3" y="267.1" font-size="7.1" fill="#1010f4" font-weight="bold" text-anchor="start">2</text>
<line x1="241.9" y1="235.25" x2="244.5" y2="235.25" stroke="#1010f4" stroke-width="1"/>
<text x="246.3" y="237.75" font-size="7.1" fill="#1010f4" font-weight="bold" text-anchor="start">3</text>
<line x1="241.9" y1="205.9" x2="244.5" y2="205.9" stroke="#1010f4" stroke-width="1"/>
<text x="246.3" y="208.4" font-size="7.1" fill="#1010f4" font-weight="bold" text-anchor="start">4</text>
<line x1="241.9" y1="308.625" x2="243.4" y2="308.625" stroke="#1010f4" stroke-width="0.8"/>
<line x1="241.9" y1="279.275" x2="243.4" y2="279.275" stroke="#1010f4" stroke-width="0.8"/>
<line x1="241.9" y1="249.925" x2="243.4" y2="249.925" stroke="#1010f4" stroke-width="0.8"/>
<line x1="241.9" y1="220.575" x2="243.4" y2="220.575" stroke="#1010f4" stroke-width="0.8"/>
<text x="157.7" y="344.4" font-size="8.2" fill="#161616" font-weight="bold" text-anchor="middle" textLength="102" lengthAdjust="spacingAndGlyphs">Current density (mA cm<tspan font-size="70%" dy="-2">-2</tspan><tspan dy="2">&#8203;</tspan>)</text>
<text x="56.6" y="265" font-size="7.3" fill="#ff2a6e" font-weight="bold" text-anchor="middle" transform="rotate(-90 56.6 265)">Cell voltage (V)</text>
<text x="254.2" y="262.5" font-size="7.4" fill="#1010f4" font-weight="bold" text-anchor="middle" transform="rotate(90 254.2 262.5)">Power density (mW cm<tspan font-size="70%" dy="-2">-2</tspan><tspan dy="2">&#8203;</tspan>)</text>
<text x="238" y="216.2" font-size="7.8" fill="#333" font-weight="bold" text-anchor="end" textLength="57" lengthAdjust="spacingAndGlyphs">PtAuCuNi@NF</text>
<text x="273.4" y="217.6" font-size="17.5" fill="#111" font-weight="bold" text-anchor="start">e</text>
<path d="M343.11 242.95 L343.31 257.03 M379.22 257.76 L379.42 262.89 M412.66 264.36 L412.86 273.15 M446.10 274.62 L446.30 284.88 " fill="none" stroke="#ff2a7a" stroke-width="1.6"/>
<path d="M309.20 241.19 L343.11 242.95 M343.31 257.03 L379.22 257.76 M379.42 262.89 L412.66 264.36 M412.86 273.15 L446.10 274.62 M446.30 284.88 L476.20 287.23 " fill="none" stroke="#ff2a7a" stroke-width="3.8"/>
<path d="M343.11 245.30 L343.31 260.25 M379.22 262.89 L379.42 267.88 M412.66 269.64 L412.86 279.61 M446.10 281.66 L446.30 292.22 " fill="none" stroke="#1414f0" stroke-width="1.6"/>
<path d="M309.20 242.95 L343.11 245.30 M343.31 260.25 L379.22 262.89 M379.42 267.88 L412.66 269.64 M412.86 279.61 L446.10 281.66 M446.30 292.22 L476.20 296.61 " fill="none" stroke="#1414f0" stroke-width="3.8"/>
<circle cx="343.7776" cy="263.916875" r="1.7" fill="#1414f0"/>
<circle cx="446.104" cy="277.113125" r="1.9" fill="#1414f0"/>
<path d="M343.11 245.30 L343.31 262.01 M379.22 267.00 L379.42 271.69 M412.66 275.21 L412.86 284.59 M446.10 291.34 L446.30 301.01 " fill="none" stroke="#ff8a14" stroke-width="1.6"/>
<path d="M309.20 241.78 L343.11 245.30 M343.31 262.01 L379.22 267.00 M379.42 271.69 L412.66 275.21 M412.86 284.59 L446.10 291.34 M446.30 301.01 L476.20 309.52 " fill="none" stroke="#ff8a14" stroke-width="3.8"/>
<rect x="309.0" y="206.0" width="167.2" height="117.30000000000001" fill="none" stroke="#1c1c1c" stroke-width="1.5"/>
<line x1="309.0" y1="206.0" x2="476.2" y2="206.0" stroke="#707070" stroke-width="1.5"/>
<line x1="306.4" y1="323.3" x2="309.0" y2="323.3" stroke="#333" stroke-width="1"/>
<text x="304.6" y="325.8" font-size="7.1" fill="#161616" font-weight="bold" text-anchor="end">0.0</text>
<line x1="306.4" y1="293.975" x2="309.0" y2="293.975" stroke="#333" stroke-width="1"/>
<text x="304.6" y="296.475" font-size="7.1" fill="#161616" font-weight="bold" text-anchor="end">0.2</text>
<line x1="306.4" y1="264.65" x2="309.0" y2="264.65" stroke="#333" stroke-width="1"/>
<text x="304.6" y="267.15" font-size="7.1" fill="#161616" font-weight="bold" text-anchor="end">0.4</text>
<line x1="306.4" y1="235.325" x2="309.0" y2="235.325" stroke="#333" stroke-width="1"/>
<text x="304.6" y="237.825" font-size="7.1" fill="#161616" font-weight="bold" text-anchor="end">0.6</text>
<line x1="306.4" y1="206.0" x2="309.0" y2="206.0" stroke="#333" stroke-width="1"/>
<text x="304.6" y="208.5" font-size="7.1" fill="#161616" font-weight="bold" text-anchor="end">0.8</text>
<line x1="307.5" y1="308.6375" x2="309.0" y2="308.6375" stroke="#333" stroke-width="0.8"/>
<line x1="307.5" y1="279.3125" x2="309.0" y2="279.3125" stroke="#333" stroke-width="0.8"/>
<line x1="307.5" y1="249.9875" x2="309.0" y2="249.9875" stroke="#333" stroke-width="0.8"/>
<line x1="307.5" y1="220.66250000000002" x2="309.0" y2="220.66250000000002" stroke="#333" stroke-width="0.8"/>
<line x1="309.0" y1="323.3" x2="309.0" y2="325.90000000000003" stroke="#333" stroke-width="1"/>
<text x="309.0" y="333.3" font-size="7.1" fill="#161616" font-weight="bold" text-anchor="middle">0.0</text>
<line x1="342.44" y1="323.3" x2="342.44" y2="325.90000000000003" stroke="#333" stroke-width="1"/>
<text x="342.44" y="333.3" font-size="7.1" fill="#161616" font-weight="bold" text-anchor="middle">0.5</text>
<line x1="375.88" y1="323.3" x2="375.88" y2="325.90000000000003" stroke="#333" stroke-width="1"/>
<text x="375.88" y="333.3" font-size="7.1" fill="#161616" font-weight="bold" text-anchor="middle">1.0</text>
<line x1="409.32" y1="323.3" x2="409.32" y2="325.90000000000003" stroke="#333" stroke-width="1"/>
<text x="409.32" y="333.3" font-size="7.1" fill="#161616" font-weight="bold" text-anchor="middle">1.5</text>
<line x1="442.76" y1="323.3" x2="442.76" y2="325.90000000000003" stroke="#333" stroke-width="1"/>
<text x="442.76" y="333.3" font-size="7.1" fill="#161616" font-weight="bold" text-anchor="middle">2.0</text>
<line x1="476.2" y1="323.3" x2="476.2" y2="325.90000000000003" stroke="#333" stroke-width="1"/>
<text x="476.2" y="333.3" font-size="7.1" fill="#161616" font-weight="bold" text-anchor="middle">2.5</text>
<line x1="325.72" y1="323.3" x2="325.72" y2="324.8" stroke="#333" stroke-width="0.8"/>
<line x1="359.15999999999997" y1="323.3" x2="359.15999999999997" y2="324.8" stroke="#333" stroke-width="0.8"/>
<line x1="392.6" y1="323.3" x2="392.6" y2="324.8" stroke="#333" stroke-width="0.8"/>
<line x1="426.03999999999996" y1="323.3" x2="426.03999999999996" y2="324.8" stroke="#333" stroke-width="0.8"/>
<line x1="459.48" y1="323.3" x2="459.48" y2="324.8" stroke="#333" stroke-width="0.8"/>
<text x="392.8" y="344.4" font-size="8.1" fill="#161616" font-weight="bold" text-anchor="middle">Time (h)</text>
<text x="292.0" y="264.5" font-size="7.6" fill="#161616" font-weight="bold" text-anchor="middle" transform="rotate(-90 292.0 264.5)">Potential (V)</text>
<text x="324.5" y="239.5" font-size="6.2" fill="#161616" font-weight="bold" text-anchor="start" transform="rotate(-40 324.5 239.5)">0 mA cm<tspan font-size="70%" dy="-2">-2</tspan><tspan dy="2">&#8203;</tspan></text>
<text x="358.8" y="253.6" font-size="6.2" fill="#161616" font-weight="bold" text-anchor="start" transform="rotate(-40 358.8 253.6)">1 mA cm<tspan font-size="70%" dy="-2">-2</tspan><tspan dy="2">&#8203;</tspan></text>
<text x="392.6" y="263.2" font-size="6.2" fill="#161616" font-weight="bold" text-anchor="start" transform="rotate(-40 392.6 263.2)">2 mA cm<tspan font-size="70%" dy="-2">-2</tspan><tspan dy="2">&#8203;</tspan></text>
<text x="424.6" y="274.0" font-size="6.2" fill="#161616" font-weight="bold" text-anchor="start" transform="rotate(-40 424.6 274.0)">5 mA cm<tspan font-size="70%" dy="-2">-2</tspan><tspan dy="2">&#8203;</tspan></text>
<text x="450.6" y="284.8" font-size="6.2" fill="#161616" font-weight="bold" text-anchor="start" transform="rotate(-40 450.6 284.8)">10 mA cm<tspan font-size="70%" dy="-2">-2</tspan><tspan dy="2">&#8203;</tspan></text>
<line x1="313" y1="293.3" x2="330" y2="293.3" stroke="#ff2a7a" stroke-width="1.2"/><circle cx="321.5" cy="293.3" r="1.7" fill="#ff2a7a"/>
<text x="334" y="295.5" font-size="6.3" fill="#333" font-weight="bold" text-anchor="start" textLength="47.5" lengthAdjust="spacingAndGlyphs">PtAuCuNi@NF</text>
<line x1="313" y1="306.0" x2="330" y2="306.0" stroke="#1414f0" stroke-width="1.2"/><circle cx="321.5" cy="306.0" r="1.7" fill="#1414f0"/>
<text x="334" y="308.2" font-size="6.3" fill="#333" font-weight="bold" text-anchor="start" textLength="40.5" lengthAdjust="spacingAndGlyphs">PtAuCu@NF</text>
<line x1="313" y1="317.3" x2="330" y2="317.3" stroke="#ff8a14" stroke-width="1.2"/><circle cx="321.5" cy="317.3" r="1.7" fill="#ff8a14"/>
<text x="334" y="319.5" font-size="6.3" fill="#333" font-weight="bold" text-anchor="start" textLength="31.5" lengthAdjust="spacingAndGlyphs">PtAu@NF</text>
<text x="495.6" y="215.6" font-size="17.5" fill="#111" font-weight="bold" text-anchor="start">f</text>
<line x1="524.0" y1="265.8185" x2="691.0" y2="276.47325" stroke="#f80c0c" stroke-width="2.6"/>
<rect x="524.0" y="205.8" width="167.0" height="117.30000000000001" fill="none" stroke="#1c1c1c" stroke-width="1.5"/>
<line x1="524.0" y1="205.8" x2="691.0" y2="205.8" stroke="#555" stroke-width="1.4"/>
<line x1="521.4" y1="323.1" x2="524.0" y2="323.1" stroke="#333" stroke-width="1"/>
<text x="519.6" y="325.6" font-size="7.1" fill="#161616" font-weight="bold" text-anchor="end">-0.2</text>
<line x1="521.4" y1="303.55" x2="524.0" y2="303.55" stroke="#333" stroke-width="1"/>
<text x="519.6" y="306.05" font-size="7.1" fill="#161616" font-weight="bold" text-anchor="end">0.0</text>
<line x1="521.4" y1="284.0" x2="524.0" y2="284.0" stroke="#333" stroke-width="1"/>
<text x="519.6" y="286.5" font-size="7.1" fill="#161616" font-weight="bold" text-anchor="end">0.2</text>
<line x1="521.4" y1="264.45" x2="524.0" y2="264.45" stroke="#333" stroke-width="1"/>
<text x="519.6" y="266.95" font-size="7.1" fill="#161616" font-weight="bold" text-anchor="end">0.4</text>
<line x1="521.4" y1="244.9" x2="524.0" y2="244.9" stroke="#333" stroke-width="1"/>
<text x="519.6" y="247.4" font-size="7.1" fill="#161616" font-weight="bold" text-anchor="end">0.6</text>
<line x1="521.4" y1="225.35000000000002" x2="524.0" y2="225.35000000000002" stroke="#333" stroke-width="1"/>
<text x="519.6" y="227.85000000000002" font-size="7.1" fill="#161616" font-weight="bold" text-anchor="end">0.8</text>
<line x1="521.4" y1="205.79999999999998" x2="524.0" y2="205.79999999999998" stroke="#333" stroke-width="1"/>
<text x="519.6" y="208.29999999999998" font-size="7.1" fill="#161616" font-weight="bold" text-anchor="end">1.0</text>
<line x1="522.5" y1="313.32500000000005" x2="524.0" y2="313.32500000000005" stroke="#333" stroke-width="0.8"/>
<line x1="522.5" y1="293.77500000000003" x2="524.0" y2="293.77500000000003" stroke="#333" stroke-width="0.8"/>
<line x1="522.5" y1="274.225" x2="524.0" y2="274.225" stroke="#333" stroke-width="0.8"/>
<line x1="522.5" y1="254.675" x2="524.0" y2="254.675" stroke="#333" stroke-width="0.8"/>
<line x1="522.5" y1="235.125" x2="524.0" y2="235.125" stroke="#333" stroke-width="0.8"/>
<line x1="522.5" y1="215.575" x2="524.0" y2="215.575" stroke="#333" stroke-width="0.8"/>
<line x1="524.0" y1="323.1" x2="524.0" y2="325.70000000000005" stroke="#333" stroke-width="1"/>
<text x="524.0" y="333.1" font-size="7.1" fill="#161616" font-weight="bold" text-anchor="middle">0</text>
<line x1="557.4" y1="323.1" x2="557.4" y2="325.70000000000005" stroke="#333" stroke-width="1"/>
<text x="557.4" y="333.1" font-size="7.1" fill="#161616" font-weight="bold" text-anchor="middle">4</text>
<line x1="590.8" y1="323.1" x2="590.8" y2="325.70000000000005" stroke="#333" stroke-width="1"/>
<text x="590.8" y="333.1" font-size="7.1" fill="#161616" font-weight="bold" text-anchor="middle">8</text>
<line x1="624.2" y1="323.1" x2="624.2" y2="325.70000000000005" stroke="#333" stroke-width="1"/>
<text x="624.2" y="333.1" font-size="7.1" fill="#161616" font-weight="bold" text-anchor="middle">12</text>
<line x1="657.6" y1="323.1" x2="657.6" y2="325.70000000000005" stroke="#333" stroke-width="1"/>
<text x="657.6" y="333.1" font-size="7.1" fill="#161616" font-weight="bold" text-anchor="middle">16</text>
<line x1="691.0" y1="323.1" x2="691.0" y2="325.70000000000005" stroke="#333" stroke-width="1"/>
<text x="691.0" y="333.1" font-size="7.1" fill="#161616" font-weight="bold" text-anchor="middle">20</text>
<line x1="540.7" y1="323.1" x2="540.7" y2="324.6" stroke="#333" stroke-width="0.8"/>
<line x1="574.1" y1="323.1" x2="574.1" y2="324.6" stroke="#333" stroke-width="0.8"/>
<line x1="607.5" y1="323.1" x2="607.5" y2="324.6" stroke="#333" stroke-width="0.8"/>
<line x1="640.9" y1="323.1" x2="640.9" y2="324.6" stroke="#333" stroke-width="0.8"/>
<line x1="674.3" y1="323.1" x2="674.3" y2="324.6" stroke="#333" stroke-width="0.8"/>
<text x="607.6" y="344.3" font-size="8.1" fill="#161616" font-weight="bold" text-anchor="middle">Time (h)</text>
<text x="503.4" y="264.5" font-size="7.6" fill="#161616" font-weight="bold" text-anchor="middle" transform="rotate(-90 503.4 264.5)">Potential (V)</text>
<text x="574.3" y="219.2" font-size="7.4" fill="#f80c0c" font-weight="bold" text-anchor="start" textLength="112" lengthAdjust="spacingAndGlyphs">PtAuCuNi@NF at 2 mA cm<tspan font-size="70%" dy="-2">-2</tspan><tspan dy="2">&#8203;</tspan></text>
</g>
<g filter="url(#b03)">
<text x="270.8" y="58.2" font-size="16.5" fill="#111" font-weight="bold" text-anchor="start">b</text>
<path d="M291.8 92 V52.5 H368 M410 52.5 H483.8 V92" fill="none" stroke="#4619bd" stroke-width="2.4"/>
<g filter="url(#b06)">
<g transform="translate(225 -316)">
<path d="M62.5 407 Q76 402.6 92 403.6 T125 403 T158 403.2 L158 489.8 Q146 491.4 134 489.6 T110 489.8 T88 489.4 T67.5 490 Z" fill="url(#wL)"/>
<path d="M162 403.2 Q190 401.8 215 403.2 T246 402.8 L259.5 407.4 L257 489.2 Q246 491 234 489.2 T210 489.4 T186 489.2 T162 490 Z" fill="url(#wR)"/>
<path d="M66 476 L70 472 L75 474.5 L81 470.5 L88 473.5 L95 469.5 L103 472.5 L111 470 L120 473 L128 468.5 L136 471.5 L144 467.5 L151 470.5 L158 468 L158 490 L68 490 Z" fill="#2858b0" opacity="0.88"/>
<path d="M67 482 Q80 478 92 481 T120 480 T158 481 L158 490 L68 490 Z" fill="#1e4aa2" opacity="0.6"/>
<path d="M66 476 L70 472 L75 474.5 L81 470.5 L88 473.5 L95 469.5 L103 472.5 L111 470 L120 473 L128 468.5 L136 471.5 L144 467.5 L151 470.5 L158 468 L158 490 L68 490 Z" fill="#000" filter="url(#wvTex)" opacity="0.8"/>
<path d="M66 476 L70 472 L75 474.5 L81 470.5 L88 473.5 L95 469.5 L103 472.5 L111 470 L120 473 L128 468.5 L136 471.5 L144 467.5 L151 470.5 L158 468 L158 490 L68 490 Z" fill="#000" filter="url(#wvTexL)" opacity="0.36"/>
<path d="M163 471 L170 467.5 L178 470.5 L187 466.5 L196 469.5 L206 467 L216 470 L226 466.5 L236 469.5 L246 466 L257.5 468.5 L257 489.4 L163 490 Z" fill="#3222a2" opacity="0.88"/>
<path d="M163 480 Q180 476 196 479 T230 478 T257 479 L257 489.4 L163 490 Z" fill="#261a8e" opacity="0.6"/>
<path d="M163 471 L170 467.5 L178 470.5 L187 466.5 L196 469.5 L206 467 L216 470 L226 466.5 L236 469.5 L246 466 L257.5 468.5 L257 489.4 L163 490 Z" fill="#000" filter="url(#wvTex)" opacity="0.7"/>
<path d="M163 471 L170 467.5 L178 470.5 L187 466.5 L196 469.5 L206 467 L216 470 L226 466.5 L236 469.5 L246 466 L257.5 468.5 L257 489.4 L163 490 Z" fill="#000" filter="url(#wvTexL)" opacity="0.26"/>
<path d="M62.5 407 Q76 402.6 92 403.6 T125 403 T158 403.2 L158 411.5 L63 412.5 Z" fill="url(#topB)"/>
<path d="M162 403.2 Q190 401.8 215 403.2 T246 402.8 L259.5 407.4 L259 413 L162 411.5 Z" fill="url(#topB)"/>
<path d="M78 411.5 q1 6 0.5 9 q4 5 4.5 9 q1.5 3 0.8 5" stroke="#183a8c" stroke-width="1.9" fill="none" opacity="0.9" stroke-linecap="round"/>
<path d="M68 414 q-0.5 6 0.8 12 M72.5 413 q-0.5 6 0.8 12 M75 414 q0 4 0.6 8" stroke="#2e60b0" stroke-width="0.9" fill="none" opacity="0.85"/>
<path d="M70 458 q0.5 6 0 10 M74 457 q0.5 6 0.4 10 M78 458 q0.5 5 0.2 8" stroke="#2e5cac" stroke-width="0.8" fill="none" opacity="0.7"/>
<path d="M245 409 q-3 10 -1 18 q-5 10 -2 22 q-3 10 -2 20 M251 428 q-3 4 -1 9" stroke="#2a1c92" stroke-width="0.8" fill="none" opacity="0.7"/>
<path d="M155.4 404 L165 403.6 L165 491.6 L155.4 491.6 Z" fill="#54486a"/>
<path d="M155.4 404 L158.2 404 L158.2 491.6 L155.4 491.6 Z" fill="#66749a"/>
<path d="M155.6 402.8 L165.2 402.4 L165.2 409.5 L155.6 410 Z" fill="#868ca8"/>
<path d="M45.4 412 L59.3 409.6 L68.6 488.4 L54.8 494.4 Z" fill="#bcb5b8"/>
<path d="M59.3 409.6 L62.6 409 L71 487.4 L68.6 488.4 Z" fill="#9c98ae"/>
<path d="M45.2 412.2 L68 404.4 L83.8 401.8 L84.2 405.2 L63 409.8 L59 410.4 Z" fill="#c6babe"/>
<text x="60.4" y="485.8" font-size="9.5" fill="#141414" font-weight="bold" text-anchor="start" transform="rotate(-95.2 60.4 485.8)" textLength="65.5" lengthAdjust="spacingAndGlyphs">PtAuCuNi@NF</text>
<path d="M243.9 402.7 L261.7 409.9 L256.7 489 L251.9 487.5 L253.2 412.4 L243.4 406.2 Z" fill="#2a4a9a"/>
<path d="M261.7 409.9 L274 413.8 L267.6 493 L256.7 489 Z" fill="#bab6b8"/>
<path d="M247 402.4 L262.4 406.3 L274 413.8 L261.7 409.9 Z" fill="#a2a6be"/>
<text x="263.4" y="421.4" font-size="9.5" fill="#141414" font-weight="bold" text-anchor="start" transform="rotate(95.6 263.4 421.4)" textLength="65" lengthAdjust="spacingAndGlyphs">PtAuCuNi@NF</text>
<path d="M105.4 464.4 C88 464.8 75.6 457.5 75.6 445.5 C75.6 436.8 83.5 429.8 98 428.2 L97.6 425.2 L106.2 431.4 L99.8 437.4 L99.2 433.8 C88.5 435.2 79.4 439.8 79.4 446 C79.4 454.4 90.5 459.8 105.4 459.8 Z" fill="#e6c050"/>
<path d="M105.4 464.4 C88 464.8 75.4 457.5 75.4 445.5 C76.6 456 88 461.6 105.4 461.8 Z" fill="#c8a23a" opacity="0.7"/>
<path d="M219.8 466.2 C236 465.8 248.6 458 248.6 446.5 C248.6 437.4 241 431.6 229.8 429.6 L230.2 426 L220.6 432.6 L227.8 438.6 L228.4 435 C238.6 436.6 245 441 245 447 C245 455.2 234.4 460.6 219.8 461 Z" fill="#ee2c6e"/>
<path d="M219.8 466.2 C236 465.8 248.6 458 248.6 446.5 C247.2 456.4 236 463 219.8 463.8 Z" fill="#c41c58" opacity="0.7"/>
<text x="100.2" y="448.9" font-size="8.9" fill="#e8eef8" font-weight="bold" text-anchor="start" textLength="18.6" lengthAdjust="spacingAndGlyphs">HER</text>
<text x="198.4" y="449.2" font-size="8.9" fill="#e4e0f4" font-weight="bold" text-anchor="start" textLength="19.2" lengthAdjust="spacingAndGlyphs">EOR</text>
<text x="144.6" y="450.9" font-size="10.3" fill="#79d36c" font-weight="bold" text-anchor="start" textLength="23.8" lengthAdjust="spacingAndGlyphs">CEM</text>
<text x="92.2" y="479.9" font-size="6.7" fill="#eef2fa" font-weight="bold" text-anchor="start" textLength="48" lengthAdjust="spacingAndGlyphs">0.5 M H<tspan font-size="70%" dy="1.2">2</tspan><tspan dy="-1.2">&#8203;</tspan>SO<tspan font-size="70%" dy="1.2">4</tspan><tspan dy="-1.2">&#8203;</tspan></text>
<text x="209.5" y="475.8" font-size="6.6" fill="#f0eefa" font-weight="bold" text-anchor="middle" textLength="40.5" lengthAdjust="spacingAndGlyphs">1 M KOH +</text>
<text x="210" y="486" font-size="6.6" fill="#f0eefa" font-weight="bold" text-anchor="middle" textLength="47" lengthAdjust="spacingAndGlyphs">1 M Ethanol</text>
</g>
</g>
<path d="M366.9 52.6 L369.4 47.6 Q370 47.1 371 47.1 L380.9 47.1 L380.9 58.1 L371 58.1 Q370 58.1 369.4 57.6 Z" fill="#b87a1e"/>
<path d="M371.5 47.4v10.4M374.3 47.4v10.4M377.1 47.4v10.4M379.9 47.4v10.4" stroke="#8e5a12" stroke-width="0.9"/>
<path d="M369.4 47.6 L380.9 47.1 L380.9 49 L369 49.2 Z M369.4 57.6 L380.9 58.1 L380.9 56.2 L369 56 Z" fill="#8e5a12" opacity="0.8"/>
<path d="M381 49.6 C383.5 47.6 386 45.2 388 43.7 C390.6 41.8 393 40.5 396.5 40.3 C405 40 411.2 45.5 411.2 52.4 C411.2 59.5 405.5 65.8 398.5 65.8 C394 65.8 390.5 64.6 387.5 62.9 C385.2 61.4 383 59.4 381 57.6 Z" fill="url(#bulb)"/>
<path d="M382.6 50.4 Q392 43.2 405.4 48.4" stroke="#ffffe8" stroke-width="0.9" fill="none"/>
<path d="M396.5 40.3 C405 40 411.2 45.5 411.2 52.4 C411.2 59.5 405.5 65.8 398.5 65.8" stroke="#ffff9a" stroke-width="1.2" fill="none" opacity="0.8"/>
<circle cx="407.3" cy="52.6" r="1" fill="#6e6420"/>
<text x="378.3" y="190.8" font-size="11.3" fill="#ff3470" font-weight="bold" text-anchor="middle" textLength="123" lengthAdjust="spacingAndGlyphs">Self-Powered System</text>
<text x="43.0" y="363.4" font-size="19.2" fill="#111" font-weight="bold" text-anchor="start" textLength="10.2" lengthAdjust="spacingAndGlyphs" font-family='"Liberation Serif", serif'>g</text>
<path d="M70.1 408 V368.2 H493.2 V407.5" fill="none" stroke="#4619bd" stroke-width="2.4"/>
<path d="M252.6 404 V388.2 H311.5 V404.5" fill="none" stroke="#4619bd" stroke-width="2.4"/>
<g filter="url(#b06)">
<g transform="translate(0 0)">
<path d="M62.5 407 Q76 402.6 92 403.6 T125 403 T158 403.2 L158 489.8 Q146 491.4 134 489.6 T110 489.8 T88 489.4 T67.5 490 Z" fill="url(#wL)"/>
<path d="M162 403.2 Q190 401.8 215 403.2 T246 402.8 L259.5 407.4 L257 489.2 Q246 491 234 489.2 T210 489.4 T186 489.2 T162 490 Z" fill="url(#wR)"/>
<path d="M66 476 L70 472 L75 474.5 L81 470.5 L88 473.5 L95 469.5 L103 472.5 L111 470 L120 473 L128 468.5 L136 471.5 L144 467.5 L151 470.5 L158 468 L158 490 L68 490 Z" fill="#2858b0" opacity="0.88"/>
<path d="M67 482 Q80 478 92 481 T120 480 T158 481 L158 490 L68 490 Z" fill="#1e4aa2" opacity="0.6"/>
<path d="M66 476 L70 472 L75 474.5 L81 470.5 L88 473.5 L95 469.5 L103 472.5 L111 470 L120 473 L128 468.5 L136 471.5 L144 467.5 L151 470.5 L158 468 L158 490 L68 490 Z" fill="#000" filter="url(#wvTex)" opacity="0.8"/>
<path d="M66 476 L70 472 L75 474.5 L81 470.5 L88 473.5 L95 469.5 L103 472.5 L111 470 L120 473 L128 468.5 L136 471.5 L144 467.5 L151 470.5 L158 468 L158 490 L68 490 Z" fill="#000" filter="url(#wvTexL)" opacity="0.36"/>
<path d="M163 471 L170 467.5 L178 470.5 L187 466.5 L196 469.5 L206 467 L216 470 L226 466.5 L236 469.5 L246 466 L257.5 468.5 L257 489.4 L163 490 Z" fill="#3222a2" opacity="0.88"/>
<path d="M163 480 Q180 476 196 479 T230 478 T257 479 L257 489.4 L163 490 Z" fill="#261a8e" opacity="0.6"/>
<path d="M163 471 L170 467.5 L178 470.5 L187 466.5 L196 469.5 L206 467 L216 470 L226 466.5 L236 469.5 L246 466 L257.5 468.5 L257 489.4 L163 490 Z" fill="#000" filter="url(#wvTex)" opacity="0.7"/>
<path d="M163 471 L170 467.5 L178 470.5 L187 466.5 L196 469.5 L206 467 L216 470 L226 466.5 L236 469.5 L246 466 L257.5 468.5 L257 489.4 L163 490 Z" fill="#000" filter="url(#wvTexL)" opacity="0.26"/>
<path d="M62.5 407 Q76 402.6 92 403.6 T125 403 T158 403.2 L158 411.5 L63 412.5 Z" fill="url(#topB)"/>
<path d="M162 403.2 Q190 401.8 215 403.2 T246 402.8 L259.5 407.4 L259 413 L162 411.5 Z" fill="url(#topB)"/>
<path d="M78 411.5 q1 6 0.5 9 q4 5 4.5 9 q1.5 3 0.8 5" stroke="#183a8c" stroke-width="1.9" fill="none" opacity="0.9" stroke-linecap="round"/>
<path d="M68 414 q-0.5 6 0.8 12 M72.5 413 q-0.5 6 0.8 12 M75 414 q0 4 0.6 8" stroke="#2e60b0" stroke-width="0.9" fill="none" opacity="0.85"/>
<path d="M70 458 q0.5 6 0 10 M74 457 q0.5 6 0.4 10 M78 458 q0.5 5 0.2 8" stroke="#2e5cac" stroke-width="0.8" fill="none" opacity="0.7"/>
<path d="M245 409 q-3 10 -1 18 q-5 10 -2 22 q-3 10 -2 20 M251 428 q-3 4 -1 9" stroke="#2a1c92" stroke-width="0.8" fill="none" opacity="0.7"/>
<path d="M155.4 404 L165 403.6 L165 491.6 L155.4 491.6 Z" fill="#54486a"/>
<path d="M155.4 404 L158.2 404 L158.2 491.6 L155.4 491.6 Z" fill="#66749a"/>
<path d="M155.6 402.8 L165.2 402.4 L165.2 409.5 L155.6 410 Z" fill="#868ca8"/>
<path d="M45.4 412 L59.3 409.6 L68.6 488.4 L54.8 494.4 Z" fill="#bcb5b8"/>
<path d="M59.3 409.6 L62.6 409 L71 487.4 L68.6 488.4 Z" fill="#9c98ae"/>
<path d="M45.2 412.2 L68 404.4 L83.8 401.8 L84.2 405.2 L63 409.8 L59 410.4 Z" fill="#c6babe"/>
<text x="60.4" y="485.8" font-size="9.5" fill="#141414" font-weight="bold" text-anchor="start" transform="rotate(-95.2 60.4 485.8)" textLength="65.5" lengthAdjust="spacingAndGlyphs">PtAuCuNi@NF</text>
<path d="M243.9 402.7 L261.7 409.9 L256.7 489 L251.9 487.5 L253.2 412.4 L243.4 406.2 Z" fill="#2a4a9a"/>
<path d="M261.7 409.9 L274 413.8 L267.6 493 L256.7 489 Z" fill="#bab6b8"/>
<path d="M247 402.4 L262.4 406.3 L274 413.8 L261.7 409.9 Z" fill="#a2a6be"/>
<text x="263.4" y="421.4" font-size="9.5" fill="#141414" font-weight="bold" text-anchor="start" transform="rotate(95.6 263.4 421.4)" textLength="65" lengthAdjust="spacingAndGlyphs">PtAuCuNi@NF</text>
<path d="M105.4 464.4 C88 464.8 75.6 457.5 75.6 445.5 C75.6 436.8 83.5 429.8 98 428.2 L97.6 425.2 L106.2 431.4 L99.8 437.4 L99.2 433.8 C88.5 435.2 79.4 439.8 79.4 446 C79.4 454.4 90.5 459.8 105.4 459.8 Z" fill="#e6c050"/>
<path d="M105.4 464.4 C88 464.8 75.4 457.5 75.4 445.5 C76.6 456 88 461.6 105.4 461.8 Z" fill="#c8a23a" opacity="0.7"/>
<path d="M219.8 466.2 C236 465.8 248.6 458 248.6 446.5 C248.6 437.4 241 431.6 229.8 429.6 L230.2 426 L220.6 432.6 L227.8 438.6 L228.4 435 C238.6 436.6 245 441 245 447 C245 455.2 234.4 460.6 219.8 461 Z" fill="#ee2c6e"/>
<path d="M219.8 466.2 C236 465.8 248.6 458 248.6 446.5 C247.2 456.4 236 463 219.8 463.8 Z" fill="#c41c58" opacity="0.7"/>
<text x="100.2" y="448.9" font-size="8.9" fill="#e8eef8" font-weight="bold" text-anchor="start" textLength="18.6" lengthAdjust="spacingAndGlyphs">HER</text>
<text x="198.4" y="449.2" font-size="8.9" fill="#e4e0f4" font-weight="bold" text-anchor="start" textLength="19.2" lengthAdjust="spacingAndGlyphs">EOR</text>
<text x="144.6" y="450.9" font-size="10.3" fill="#79d36c" font-weight="bold" text-anchor="start" textLength="23.8" lengthAdjust="spacingAndGlyphs">CEM</text>
<text x="92.2" y="479.9" font-size="6.7" fill="#eef2fa" font-weight="bold" text-anchor="start" textLength="48" lengthAdjust="spacingAndGlyphs">0.5 M H<tspan font-size="70%" dy="1.2">2</tspan><tspan dy="-1.2">&#8203;</tspan>SO<tspan font-size="70%" dy="1.2">4</tspan><tspan dy="-1.2">&#8203;</tspan></text>
<text x="209.5" y="475.8" font-size="6.6" fill="#f0eefa" font-weight="bold" text-anchor="middle" textLength="40.5" lengthAdjust="spacingAndGlyphs">1 M KOH +</text>
<text x="210" y="486" font-size="6.6" fill="#f0eefa" font-weight="bold" text-anchor="middle" textLength="47" lengthAdjust="spacingAndGlyphs">1 M Ethanol</text>
</g>
<path d="M304 405 Q340 401.8 380 403.6 T482 403 L494 406.4 L492 489.6 Q470 491.4 448 489.6 T404 489.8 T356 489.4 T309 490.2 Z" fill="url(#wT)"/>
<path d="M304 405 Q340 401.8 380 403.6 T482 403 L494 406.4 L493.8 413 L305 413 Z" fill="url(#topB)"/>
<path d="M308 474 L316 470.5 L326 473.5 L338 470 L350 473 L362 469.5 L374 472.5 L388 470.5 L400 473.5 L414 470 L428 473 L440 469.5 L452 472.5 L466 470 L478 472.5 L492.5 471 L492 489.6 L309 490.2 Z" fill="#2a6cae" opacity="0.8"/>
<path d="M309 481 Q340 476 372 479.5 T440 479 T492 479.5 L492 489.6 L309 490.2 Z" fill="#245ea8" opacity="0.55"/>
<path d="M308 474 L316 470.5 L326 473.5 L338 470 L350 473 L362 469.5 L374 472.5 L388 470.5 L400 473.5 L414 470 L428 473 L440 469.5 L452 472.5 L466 470 L478 472.5 L492.5 471 L492 489.6 L309 490.2 Z" fill="#000" filter="url(#wvTex)" opacity="0.7"/>
<path d="M308 474 L316 470.5 L326 473.5 L338 470 L350 473 L362 469.5 L374 472.5 L388 470.5 L400 473.5 L414 470 L428 473 L440 469.5 L452 472.5 L466 470 L478 472.5 L492.5 471 L492 489.6 L309 490.2 Z" fill="#000" filter="url(#wvTexL)" opacity="0.34"/>
<path d="M316 414 q3 6 1 12 q5 8 3 18 q3 8 1 20 q2 8 1 14" stroke="#1f3878" stroke-width="1.5" fill="none" opacity="0.85"/>
<path d="M308 418 q-1 8 1 16" stroke="#2a6898" stroke-width="0.8" fill="none" opacity="0.8"/>
<path d="M481 410 q-2 14 0 26 q-3 14 -1 30 q-2 10 -1 22" stroke="#2a5a9a" stroke-width="0.8" fill="none" opacity="0.8"/>
<path d="M287.6 413 L301.2 406.2 L309.8 485 L296.2 490.2 Z" fill="#b7b1b6"/>
<path d="M301.2 406.2 L305.5 405.2 L313 484 L309.8 485 Z" fill="#8a90aa"/>
<path d="M287.6 413 L301 405.6 L321 402.2 L321.2 405.6 L305.6 408.2 L301.2 409.4 Z" fill="#c2b8bc"/>
<text x="302.2" y="487.4" font-size="9.3" fill="#141414" font-weight="bold" text-anchor="start" transform="rotate(-94.8 302.2 487.4)" textLength="65" lengthAdjust="spacingAndGlyphs">PtAuCuNi@NF</text>
<path d="M479.8 402.7 L494.1 408.9 L491.7 490 L488.4 489 L489.6 411.8 L479.4 406 Z" fill="#283e92"/>
<path d="M494.1 408.9 L507.5 414.8 L502.6 494 L491.7 490 Z" fill="#b8b4b6"/>
<path d="M481 402.4 L492.8 403.4 L507.5 414.8 L494.1 408.9 Z" fill="#a4a8c0"/>
<text x="497.6" y="423.4" font-size="9.3" fill="#141414" font-weight="bold" text-anchor="start" transform="rotate(93.6 497.6 423.4)" textLength="64" lengthAdjust="spacingAndGlyphs">PtAuCuNi@NF</text>
<path d="M338.5 466.2 C320 466.5 308.8 459 308.8 448.5 C308.8 439.8 317 432.8 331.2 431.2 L330.8 428 L339.4 433 L333 439.6 L332.4 436.6 C321.6 438 313 442.4 313 448.6 C313 456.4 324 461.4 338.5 461.4 Z" fill="#e6c050"/>
<path d="M338.5 466.2 C320 466.5 308.8 459 308.8 448.5 C310 458 321 463.2 338.5 463.4 Z" fill="#c8a23a" opacity="0.7"/>
<path d="M460.2 465.9 C475 465.5 487 458 487 447 C487 438 480 432 468.4 429.6 L468.8 425.8 L459.4 432.4 L466.8 439.2 L467.4 435.2 C476.6 437 483.2 441.5 483.2 447.4 C483.2 455.4 473 460.2 460.2 460.6 Z" fill="#ee2c6e"/>
<path d="M460.2 465.9 C475 465.5 487 458 487 447 C485.6 457 475 462.4 460.2 463 Z" fill="#c41c58" opacity="0.7"/>
<text x="343.8" y="451.2" font-size="9.3" fill="#e8f2f8" font-weight="bold" text-anchor="start" textLength="19.5" lengthAdjust="spacingAndGlyphs">HER</text>
<text x="443.6" y="448.6" font-size="9.3" fill="#e8f2f8" font-weight="bold" text-anchor="start" textLength="19.5" lengthAdjust="spacingAndGlyphs">EOR</text>
<text x="353.6" y="481.2" font-size="6.8" fill="#eef6fa" font-weight="bold" text-anchor="start" textLength="90" lengthAdjust="spacingAndGlyphs">1 M KOH + 1 M Ethanol</text>
</g>
<text x="88.0" y="381.6" font-size="15.2" fill="#ff1616" font-weight="bold" text-anchor="start">e</text>
<text x="97.6" y="377.4" font-size="9.5" fill="#ff1616" font-weight="bold" text-anchor="start">-</text>
<path d="M153 376.8H118" stroke="#3ebc72" stroke-width="1.8"/><path d="M112.2 376.8l7.6-3.4-1.6 3.4 1.6 3.4z" fill="#3ebc72"/>
<text x="145.0" y="393.2" font-size="12.4" fill="#ff1616" font-weight="bold" text-anchor="start" textLength="39" lengthAdjust="spacingAndGlyphs">0.59 V</text>
<text x="274.6" y="399.4" font-size="15.2" fill="#ff1616" font-weight="bold" text-anchor="start">e</text>
<text x="284.2" y="395.2" font-size="9.5" fill="#ff1616" font-weight="bold" text-anchor="start">-</text>
<path d="M261.4 402.4H296" stroke="#22b65c" stroke-width="1.8"/><path d="M302.4 402.4l-7.6-3.4 1.6 3.4-1.6 3.4z" fill="#22b65c"/>
<text x="383" y="390.8" font-size="12.6" fill="#ff1616" font-weight="bold" text-anchor="start" textLength="39" lengthAdjust="spacingAndGlyphs">0.28 V</text>
<text x="474.4" y="383.2" font-size="15.2" fill="#ff1616" font-weight="bold" text-anchor="start">e</text>
<text x="484" y="379.0" font-size="9.5" fill="#ff1616" font-weight="bold" text-anchor="start">-</text>
<path d="M464.4 378H429" stroke="#3ebc72" stroke-width="1.8"/><path d="M423.2 378l7.6-3.4-1.6 3.4 1.6 3.4z" fill="#3ebc72"/>
<text x="144.3" y="516.6" font-size="11.2" fill="#ff3470" font-weight="bold" text-anchor="middle" textLength="122.5" lengthAdjust="spacingAndGlyphs">Self-Powered System</text>
<text x="388.5" y="516.4" font-size="11.2" fill="#2222d8" font-weight="bold" text-anchor="middle" textLength="132" lengthAdjust="spacingAndGlyphs">Overall Water Splitting</text>
<text x="502.9" y="371.6" font-size="16.6" fill="#111" font-weight="bold" text-anchor="start">h</text>
<g filter="url(#b06)">
<rect x="523.8" y="352.5" width="158" height="101" fill="#1d1e20"/>
<rect x="523.8" y="425" width="158" height="28.5" fill="#24262a"/>
<path d="M540 393 L597 393 L597.6 430 Q597.6 441.5 585 441.5 L551.5 441.5 Q539 441.5 539 430 Z" fill="#6c7072" opacity="0.5"/>
<path d="M539 413 Q568 408.5 597.6 413 L597.6 430 Q597.6 441.5 585 441.5 L551.5 441.5 Q539 441.5 539 430 Z" fill="#a4a8a8" opacity="0.62"/>
<path d="M540 394 L543.5 394 L543.5 432 L540 426 Z" fill="#c8caca" opacity="0.6"/><path d="M593.5 394 L597 394 L597 426 L593.5 432 Z" fill="#c0c2c2" opacity="0.55"/>
<path d="M543 395.5 H594" stroke="#b8baba" stroke-width="2.2" opacity="0.7"/>
<rect x="556.6" y="394" width="4.6" height="22" fill="#d6d6d2" opacity="0.9"/><rect x="575.8" y="394" width="4.6" height="22" fill="#d6d6d2" opacity="0.9"/>
<rect x="550" y="413.5" width="13.5" height="5" fill="#2a2a2c"/><rect x="572.6" y="413.5" width="13.5" height="5" fill="#2a2a2c"/>
<rect x="550.4" y="418.4" width="12.6" height="7" rx="1" fill="#dcd6d6"/><rect x="573" y="418.4" width="12.6" height="7" rx="1" fill="#dcd6d6"/>
<rect x="563.5" y="416" width="9" height="9" fill="#34282a" opacity="0.8"/>
<path d="M544 434.2 H591.5" stroke="#c0303a" stroke-width="1.3" opacity="0.9"/>
<path d="M545 438.6 Q568 441.8 592 438.6" stroke="#d8dada" stroke-width="1.6" fill="none" opacity="0.75"/>
<circle cx="534.8" cy="417.6" r="4.3" fill="none" stroke="#c4202c" stroke-width="1.3"/>
<rect x="533.3" y="384.8" width="67.4" height="9.4" rx="4" fill="#f3f3f1"/><path d="M537 392.4 H597" stroke="#d4d4d0" stroke-width="1.8"/>
<rect x="555.4" y="358.5" width="6.8" height="26.5" rx="1" fill="#f3f3f1"/><rect x="574.4" y="359.7" width="7" height="25.5" rx="1" fill="#f3f3f1"/>
<rect x="557.6" y="353" width="1.6" height="6" fill="#c8a070"/><rect x="577.2" y="353" width="1.6" height="7" fill="#c8a070"/>
<rect x="553" y="384" width="12" height="1.6" fill="#222"/><rect x="572" y="384" width="12" height="1.6" fill="#222"/>
<path d="M561.6 359.6 Q569 370 568 383" stroke="#c8202a" stroke-width="1.2" fill="none"/><path d="M581.8 379.4 Q596 384.6 611 382.2 Q622 380.6 634 384" stroke="#c41c28" stroke-width="1.5" fill="none"/>
<path d="M581 360.5 L590 358.5 L598.5 364 L597 368.5 L588 366.5 Z" fill="#2fa050"/>
<path d="M597 366 Q600 372 596 378 Q595 384 600 388" stroke="#2a8a48" stroke-width="1.2" fill="none"/>
<path d="M596 377 Q600 374 606 376.5" stroke="#2a8a48" stroke-width="1" fill="none"/>
<path d="M605 375 L615 376.5 L635 384.5 L634 388 L618 384.5 L606 379.5 Z" fill="#33a858"/>
<path d="M634.5 381.5 L647.5 379.5 L648.6 388 L644 392.8 L636 392 Z" fill="#d48862"/>
<path d="M607.4 393.8 L671.5 391.4 L674 395.2 L673.4 429.6 L659.4 444.8 L606 432.8 Z" fill="#eeedeb"/>
<path d="M607.4 393.8 L671.5 391.4 L674 395.2 L661.6 399.6 L607.2 396.6 Z" fill="#f8f8f6"/>
<path d="M661.6 399.6 L674 395.2 L673.4 429.6 L659.4 444.8 Z" fill="#d9d8d4"/>
<circle cx="615.3" cy="400.2" r="3" fill="#5a5640"/><circle cx="615.3" cy="400.2" r="1.7" fill="#a8a080"/>
<circle cx="655.6" cy="403.8" r="3" fill="#5a5640"/><circle cx="655.6" cy="403.8" r="1.7" fill="#a8a080"/>
<circle cx="612.8" cy="430.4" r="3" fill="#5a5640"/><circle cx="612.8" cy="430.4" r="1.7" fill="#a8a080"/>
<circle cx="650.7" cy="437.8" r="3" fill="#5a5640"/><circle cx="650.7" cy="437.8" r="1.7" fill="#a8a080"/>
<path d="M674 410 H682 M674 416 H682" stroke="#9a9a98" stroke-width="1.2"/>
<text x="565.6" y="404.4" font-size="9.4" fill="#f2bc22" font-weight="bold" text-anchor="middle" textLength="67" lengthAdjust="spacingAndGlyphs">Water splitting</text>
<text x="566.6" y="415.6" font-size="9.4" fill="#f2bc22" font-weight="bold" text-anchor="middle" textLength="31" lengthAdjust="spacingAndGlyphs">system</text>
<text x="639.8" y="417.6" font-size="9.6" fill="#ee2020" font-weight="bold" text-anchor="middle" textLength="59.5" lengthAdjust="spacingAndGlyphs">Self-powered</text>
<text x="641" y="429.2" font-size="9.6" fill="#ee2020" font-weight="bold" text-anchor="middle" textLength="31" lengthAdjust="spacingAndGlyphs">system</text>
<rect x="524.2" y="460.4" width="157.6" height="53" fill="#2c2c2a"/>
<rect x="524.2" y="466" width="10" height="44" fill="#3e3e3c"/>
<rect x="534.6" y="476" width="46" height="32" fill="#1e1e1c"/>
<rect x="622" y="474" width="46" height="34" fill="#4a4a44"/>
<rect x="668" y="466" width="13.8" height="42" fill="#3c3c3a"/>
<rect x="581" y="462" width="40" height="46" fill="#1c1c1e"/>
<rect x="534.6" y="476" width="46" height="31" fill="#fff" filter="url(#nzL)" opacity="0.22"/>
<rect x="622" y="474" width="46" height="33" fill="#fff" filter="url(#nzL)" opacity="0.55"/>
<rect x="622" y="474" width="46" height="33" fill="#000" filter="url(#nzD)" opacity="0.5"/>
<rect x="534.6" y="460.6" width="44.5" height="15.6" rx="1.5" fill="#cfcbc3"/>
<rect x="620.2" y="460.6" width="49.4" height="13.6" rx="1.5" fill="#cdc9c1"/>
<rect x="524.2" y="506.8" width="157.6" height="6.6" fill="#8a8884"/>
<rect x="584.7" y="471.8" width="31.3" height="27" fill="#fbfbfb"/>
<circle cx="600" cy="485.3" r="12.6" fill="#9cc4e8"/><circle cx="600" cy="485.3" r="12.2" fill="none" stroke="#3c7cc0" stroke-width="1"/><circle cx="600" cy="485.3" r="8.4" fill="#5a98d4"/><circle cx="600" cy="485.3" r="4" fill="#c4dcf0"/>
<text x="542.2" y="498.4" font-size="12.4" fill="#e81616" font-weight="bold" text-anchor="start" textLength="24.4" lengthAdjust="spacingAndGlyphs">EOR</text>
<text x="628.6" y="498.4" font-size="12.4" fill="#e81616" font-weight="bold" text-anchor="start" textLength="23.6" lengthAdjust="spacingAndGlyphs">HER</text>
</g>
<rect x="523.8" y="352.5" width="158" height="101" fill="none" stroke="#2a7fd0" stroke-width="1.7" stroke-dasharray="1.3 1.1"/>
<rect x="524.2" y="460.4" width="157.6" height="53" fill="none" stroke="#e84040" stroke-width="1.5" stroke-dasharray="1.3 1.1"/>
<path d="M541.3 437.8 L524.4 460.4 M592.7 436.6 L681.6 460.4" stroke="#d83030" stroke-width="0.9" stroke-dasharray="1.6 1" fill="none"/>
</g>
</svg></body></html>
